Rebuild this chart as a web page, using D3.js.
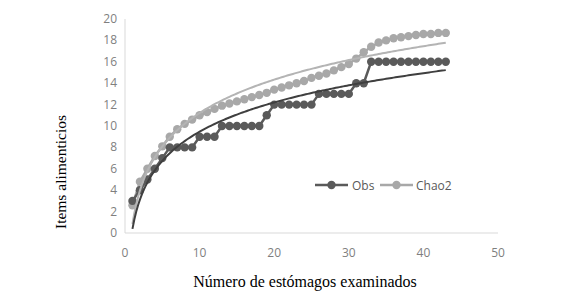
<!DOCTYPE html>
<html><head><meta charset="utf-8">
<script src="https://cdn.jsdelivr.net/npm/d3@7"></script>
<style>body{margin:0;background:#fff}svg{display:block}</style>
</head><body>
<svg id="c" width="580" height="297"></svg>
<script>
const samples = d3.range(1, 44);
const obs = [3,4,5,6,7,8,8,8,8,9,9,9,10,10,10,10,10,10,11,12,12,12,12,12,12,13,13,13,13,13,14,14,16,16,16,16,16,16,16,16,16,16,16];
const chao2 = [2.6,4.8,6.0,7.2,8.1,9.0,9.7,10.2,10.6,11.0,11.3,11.6,11.9,12.1,12.3,12.5,12.7,12.9,13.1,13.4,13.6,13.8,14.0,14.2,14.5,14.7,14.9,15.2,15.5,15.8,16.3,16.9,17.4,17.8,18.0,18.2,18.3,18.4,18.5,18.6,18.6,18.7,18.7];
const xTicks = [0,10,20,30,40,50];
const yTicks = [0,2,4,6,8,10,12,14,16,18,20];
const seriesNames = ["Obs","Chao2"];

const svg = d3.select("#c");
const x = d3.scaleLinear().domain([0,50]).range([125,498]);
const y = d3.scaleLinear().domain([0,20]).range([233,19]);
const cDark = "#5a5a5a", cLight = "#a8a8a8";

// axes
svg.append("line").attr("x1",x(0)).attr("x2",x(0)).attr("y1",y(20)).attr("y2",y(0)).attr("stroke","#d9d9d9").attr("stroke-width",1);
svg.append("line").attr("x1",x(0)).attr("x2",x(50)).attr("y1",y(0)).attr("y2",y(0)).attr("stroke","#d9d9d9").attr("stroke-width",1);
const lblFont = "'Open Sans', 'Liberation Sans', sans-serif";
svg.selectAll(".yt").data(yTicks).enter().append("text")
  .attr("x",117).attr("y",d=>y(d)+4).attr("text-anchor","end")
  .attr("font-family",lblFont).attr("font-size",12).attr("fill","#7f7f7f").text(d=>d);
svg.selectAll(".xt").data(xTicks).enter().append("text")
  .attr("x",d=>x(d)).attr("y",257).attr("text-anchor","middle")
  .attr("font-family",lblFont).attr("font-size",12).attr("fill","#7f7f7f").text(d=>d);

// log trend (least squares on ln x)
function logFit(vals){
  const lx = samples.map(Math.log);
  const mx = d3.mean(lx), my = d3.mean(vals);
  let sxy=0, sxx=0;
  lx.forEach((v,i)=>{sxy+=(v-mx)*(vals[i]-my); sxx+=(v-mx)*(v-mx);});
  const a = sxy/sxx, b = my - a*mx;
  return t => a*Math.log(t)+b;
}
const line = d3.line().x(d=>x(d[0])).y(d=>y(d[1]));
const fine = d3.range(1, 43.01, 0.25);

function drawSeries(vals, color){
  const pts = samples.map((s,i)=>[s, vals[i]]);
  svg.append("path").attr("d",line(pts)).attr("fill","none").attr("stroke",color).attr("stroke-width",2.5);
  svg.selectAll(null).data(pts).enter().append("circle")
    .attr("cx",d=>x(d[0])).attr("cy",d=>y(d[1])).attr("r",4.2).attr("fill",color);
}
function drawTrend(vals, color){
  const f = logFit(vals);
  svg.append("path").attr("d",line(fine.map(t=>[t,f(t)]))).attr("fill","none").attr("stroke",color).attr("stroke-width",2);
}
drawSeries(chao2, cLight);
drawSeries(obs, cDark);
drawTrend(chao2, "#b4b4b4");
drawTrend(obs, "#3f3f3f");

// legend
const leg = [{n:seriesNames[0], c:cDark, x0:315, tx:352},{n:seriesNames[1], c:cLight, x0:380, tx:416}];
leg.forEach(l=>{
  svg.append("line").attr("x1",l.x0).attr("x2",l.x0+33).attr("y1",185).attr("y2",185).attr("stroke",l.c).attr("stroke-width",2.5);
  svg.append("circle").attr("cx",l.x0+16.5).attr("cy",185).attr("r",4.2).attr("fill",l.c);
  svg.append("text").attr("x",l.tx).attr("y",189.5).attr("font-family",lblFont).attr("font-size",12).attr("fill","#595959").text(l.n);
});

// titles
svg.append("text").attr("transform","translate(66,172) rotate(-90)").attr("text-anchor","middle")
  .attr("font-family","'Liberation Serif', 'Times New Roman', serif").attr("font-size",15.5).attr("fill","#000").text("Items alimenticios");
svg.append("text").attr("x",305).attr("y",287).attr("text-anchor","middle")
  .attr("font-family","'Liberation Serif', 'Times New Roman', serif").attr("font-size",16).attr("fill","#000").text("Número de estómagos examinados");
</script>
</body></html>
